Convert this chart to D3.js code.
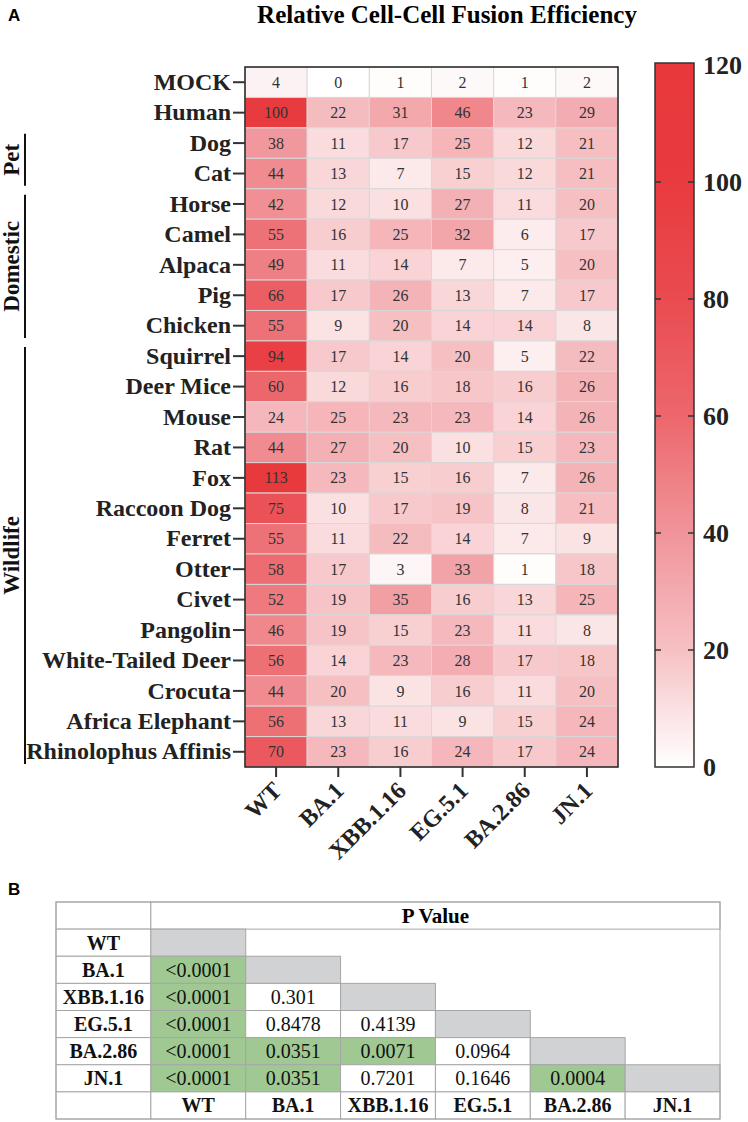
<!DOCTYPE html>
<html>
<head>
<meta charset="utf-8">
<script src="https://cdn.jsdelivr.net/npm/d3@7"></script>
<style>
  body { margin: 0; background: #fff; }
  svg { display: block; }
</style>
</head>
<body>
<svg width="748" height="1122"></svg>
<script>
let animals = ['MOCK', 'Human', 'Dog', 'Cat', 'Horse', 'Camel', 'Alpaca', 'Pig', 'Chicken',
  'Squirrel', 'Deer Mice', 'Mouse', 'Rat', 'Fox', 'Raccoon Dog', 'Ferret', 'Otter', 'Civet',
  'Pangolin', 'White-Tailed Deer', 'Crocuta', 'Africa Elephant', 'Rhinolophus Affinis'];
let variants = ['WT', 'BA.1', 'XBB.1.16', 'EG.5.1', 'BA.2.86', 'JN.1'];

// one array per variant, in animal order
let wt      = [4, 100, 38, 44, 42, 55, 49, 66, 55, 94, 60, 24, 44, 113, 75, 55, 58, 52, 46, 56, 44, 56, 70];
let ba1     = [0, 22, 11, 13, 12, 16, 11, 17, 9, 17, 12, 25, 27, 23, 10, 11, 17, 19, 19, 14, 20, 13, 23];
let xbb116  = [1, 31, 17, 7, 10, 25, 14, 26, 20, 14, 16, 23, 20, 15, 17, 22, 3, 35, 15, 23, 9, 11, 16];
let eg51    = [2, 46, 25, 15, 27, 32, 7, 13, 14, 20, 18, 23, 10, 16, 19, 14, 33, 16, 23, 28, 16, 9, 24];
let ba286   = [1, 23, 12, 12, 11, 6, 5, 7, 14, 5, 16, 14, 15, 7, 8, 7, 1, 13, 11, 17, 11, 15, 17];
let jn1     = [2, 29, 21, 21, 20, 17, 20, 17, 8, 22, 26, 26, 23, 26, 21, 9, 18, 25, 8, 18, 20, 24, 24];
let series = [wt, ba1, xbb116, eg51, ba286, jn1];

let groups = [
  { name: 'Pet', from: 'Dog', to: 'Cat' },
  { name: 'Domestic', from: 'Horse', to: 'Chicken' },
  { name: 'Wildlife', from: 'Squirrel', to: 'Rhinolophus Affinis' }
];

let legendTicks = [0, 20, 40, 60, 80, 100, 120];

// p values, lower triangle, row i vs column j (j < i)
let pValues = [
  [],
  ['<0.0001'],
  ['<0.0001', '0.301'],
  ['<0.0001', '0.8478', '0.4139'],
  ['<0.0001', '0.0351', '0.0071', '0.0964'],
  ['<0.0001', '0.0351', '0.7201', '0.1646', '0.0004']
];

let svg = d3.select('svg');
let serif = '"Liberation Serif", "Times New Roman", serif';

let x = d3.scaleBand().domain(variants).range([245, 618]);
let y = d3.scaleBand().domain(animals).range([67, 767]);

let color = d3.scaleLinear()
    .domain([0, 20, 40, 60, 80, 100, 120])
    .range(['#ffffff', '#f6c0c3', '#f0949a', '#ec676c', '#e94b50', '#e83b3f', '#e8383c']);

// panel labels + title
svg.append('text').attr('x', 8).attr('y', 21)
    .style('font', 'bold 17px Arial, "Liberation Sans", sans-serif').text('A');
svg.append('text').attr('x', 8).attr('y', 895)
    .style('font', 'bold 17px Arial, "Liberation Sans", sans-serif').text('B');
svg.append('text').attr('x', 447).attr('y', 23)
    .attr('text-anchor', 'middle')
    .style('font-family', serif).style('font-weight', 'bold').style('font-size', '25px')
    .text('Relative Cell-Cell Fusion Efficiency');

// heatmap cells
let cells = [];
animals.forEach((a, i) => variants.forEach((v, j) => cells.push({ a, v, val: series[j][i] })));

let hm = svg.append('g');
hm.selectAll('rect.cell')
  .data(cells)
  .enter().append('rect')
    .attr('class', 'cell')
    .attr('x', (d) => x(d.v))
    .attr('y', (d) => y(d.a))
    .attr('width', x.bandwidth())
    .attr('height', y.bandwidth())
    .attr('fill', (d) => color(d.val))
    .attr('stroke', '#d8d8d8')
    .attr('stroke-width', 1);

hm.selectAll('text.val')
  .data(cells)
  .enter().append('text')
    .attr('class', 'val')
    .attr('x', (d) => x(d.v) + x.bandwidth() / 2)
    .attr('y', (d) => y(d.a) + y.bandwidth() / 2)
    .attr('dy', '.35em')
    .attr('text-anchor', 'middle')
    .style('font-family', serif).style('font-size', '16px').attr('fill', '#333')
    .text((d) => d.val);

hm.append('rect')
    .attr('x', 245).attr('y', 67).attr('width', 373).attr('height', 700)
    .attr('fill', 'none').attr('stroke', '#222').attr('stroke-width', 1.5);

// y axis
let yAxis = svg.append('g')
    .attr('transform', 'translate(245,0)')
    .call(d3.axisLeft(y).tickSize(12).tickPadding(2));
yAxis.select('.domain').remove();
yAxis.selectAll('line').attr('stroke', '#333').attr('stroke-width', 2);
yAxis.selectAll('text')
    .style('font-family', serif).style('font-weight', 'bold').style('font-size', '24px')
    .attr('fill', '#222');

// x axis
let xAxis = svg.append('g')
    .attr('transform', 'translate(0,767)')
    .call(d3.axisBottom(x).tickSize(10).tickPadding(0));
xAxis.select('.domain').remove();
xAxis.selectAll('line').attr('stroke', '#333').attr('stroke-width', 2);
xAxis.selectAll('text')
    .attr('text-anchor', 'end')
    .attr('dy', null)
    .attr('transform', 'translate(7,25) rotate(-45)')
    .attr('y', 0)
    .style('font-family', serif).style('font-weight', 'bold').style('font-size', '24px')
    .attr('fill', '#222');

// group brackets
groups.forEach((g) => {
  let y0 = y(g.from) + 6;
  let y1 = y(g.to) + y.bandwidth() - 3;
  svg.append('line')
      .attr('x1', 25).attr('x2', 25).attr('y1', y0).attr('y2', y1)
      .attr('stroke', '#111').attr('stroke-width', 2);
  svg.append('text')
      .attr('transform', `translate(19,${(y0 + y1) / 2}) rotate(-90)`)
      .attr('text-anchor', 'middle')
      .style('font-family', serif).style('font-weight', 'bold').style('font-size', '23px')
      .attr('fill', '#111')
      .text(g.name);
});

// colour bar
let cy = d3.scaleLinear().domain([0, 120]).range([767, 65]);
let grad = svg.append('defs').append('linearGradient')
    .attr('id', 'cbar').attr('x1', 0).attr('x2', 0).attr('y1', 1).attr('y2', 0);
d3.range(0, 121, 5).forEach((v) => {
  grad.append('stop').attr('offset', v / 120).attr('stop-color', color(v));
});
svg.append('rect')
    .attr('x', 655).attr('y', cy(120) - 2).attr('width', 39).attr('height', cy(0) - cy(120) + 2)
    .attr('fill', 'url(#cbar)').attr('stroke', '#333').attr('stroke-width', 1.5);
svg.selectAll('g.ctick')
  .data(legendTicks.slice(1, -1))
  .enter().append('g')
    .attr('class', 'ctick')
  .each(function (d) {
    let g = d3.select(this);
    g.append('line').attr('x1', 655).attr('x2', 661).attr('y1', cy(d)).attr('y2', cy(d))
        .attr('stroke', '#333').attr('stroke-width', 1.5);
    g.append('line').attr('x1', 688).attr('x2', 694).attr('y1', cy(d)).attr('y2', cy(d))
        .attr('stroke', '#333').attr('stroke-width', 1.5);
  });
svg.selectAll('text.clab')
  .data(legendTicks)
  .enter().append('text')
    .attr('class', 'clab')
    .attr('x', 703)
    .attr('y', (d) => cy(d))
    .attr('dy', '.35em')
    .style('font-family', serif).style('font-weight', 'bold').style('font-size', '26px')
    .attr('fill', '#222')
    .text((d) => d);

// table B
let tx = d3.scaleBand().domain(['', ...variants]).range([56, 720]);
let rowNames = ['head', ...variants, 'foot'];
let ty = d3.scaleBand().domain(rowNames).range([902, 1119]);
let tb = svg.append('g');
let lineCol = '#a6a6a6';

function cell(col, row, fill, stroke) {
  tb.append('rect')
      .attr('x', tx(col)).attr('y', ty(row))
      .attr('width', tx.bandwidth()).attr('height', ty.bandwidth())
      .attr('fill', fill).attr('stroke', stroke ? lineCol : 'none').attr('stroke-width', 1);
}
function label(col, row, txt, bold) {
  tb.append('text')
      .attr('x', tx(col) + tx.bandwidth() / 2)
      .attr('y', ty(row) + ty.bandwidth() / 2)
      .attr('dy', '.35em').attr('text-anchor', 'middle')
      .style('font-family', serif).style('font-size', '20px')
      .style('font-weight', bold ? 'bold' : 'normal')
      .attr('fill', '#111')
      .text(txt);
}

cell('', 'head', '#fff', true);
tb.append('rect')
    .attr('x', tx('WT')).attr('y', ty('head'))
    .attr('width', 720 - tx('WT')).attr('height', ty.bandwidth())
    .attr('fill', '#fff').attr('stroke', lineCol);
tb.append('text')
    .attr('x', (tx('WT') + 720) / 2).attr('y', ty('head') + ty.bandwidth() / 2)
    .attr('dy', '.35em').attr('text-anchor', 'middle')
    .style('font-family', serif).style('font-size', '21px').style('font-weight', 'bold')
    .text('P Value');

variants.forEach((r, i) => {
  cell('', r, '#fff', true);
  label('', r, r, true);
  variants.forEach((c, j) => {
    if (j > i) return;
    if (j === i) { cell(c, r, '#d1d2d4', true); return; }
    let p = pValues[i][j];
    let sig = parseFloat(p.replace('<', '')) < 0.05;
    cell(c, r, sig ? '#9fc892' : '#fff', true);
    label(c, r, p, false);
  });
});
cell('', 'foot', '#fff', true);
variants.forEach((c) => {
  cell(c, 'foot', '#fff', true);
  label(c, 'foot', c, true);
});
tb.append('rect')
    .attr('x', 56).attr('y', 902).attr('width', 664).attr('height', 217)
    .attr('fill', 'none').attr('stroke', lineCol);
</script>
</body>
</html>
